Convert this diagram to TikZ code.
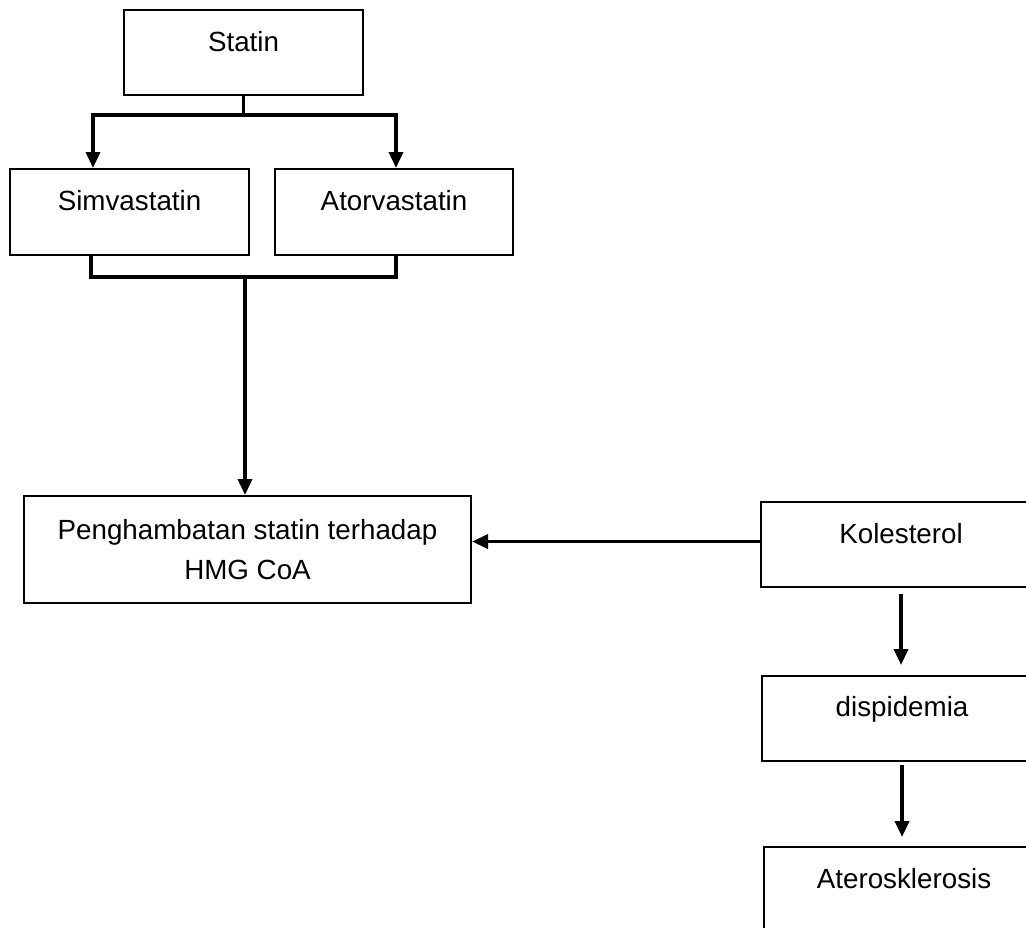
\documentclass[tikz,border=0pt]{standalone}
\usepackage{fontspec}
\setmainfont{Liberation Sans}
\usetikzlibrary{arrows.meta,calc}
\begin{document}
\begin{tikzpicture}[
  x=0.02cm,y=-0.02cm,
  font=\fontsize{15.8pt}{23.3pt}\selectfont,
  box/.style={draw=black,line width=1.2pt,inner sep=0pt,anchor=north west,
    text height=0.82cm,text depth=0.88cm},
  conn/.style={draw=black,line width=2pt},
  arr/.style={conn,-{Triangle[length=0.32cm,width=0.28cm]}}
]
\useasboundingbox (0,0) rectangle (1026,927);
\clip (0,0) rectangle (1026,927);
\fill[white] (0,0) rectangle (1026,927);
% boxes
\node[box,minimum width=4.78cm] (statin) at (123,9) {Statin};
\node[box,minimum width=4.78cm,text depth=0.9cm] (simva) at (9,168) {Simvastatin};
\node[box,minimum width=4.76cm,text depth=0.9cm] (atorva) at (274,168) {Atorvastatin};
\node[draw=black,line width=1.2pt,anchor=north west,minimum width=8.94cm,minimum height=2.14cm,align=center,inner sep=0pt] (peng) at (23,495) {Penghambatan statin terhadap\\HMG CoA};
\node[box,minimum width=5.6cm] (kol) at (760,501) {Kolesterol};
\node[box,minimum width=5.6cm,text height=0.8cm,text depth=0.9cm] (disp) at (761,675) {dispidemia};
\node[box,minimum width=5.6cm] (ater) at (763,846) {Aterosklerosis};
% connectors
\coordinate (sL) at (93,115);
\coordinate (sR) at (396,115);
\draw[conn] (statin.south) -- (statin.south |- sL);
\draw[conn,{Triangle[length=0.32cm,width=0.28cm]}-{Triangle[length=0.32cm,width=0.28cm]}]
  (sL |- simva.north) -- (sL) -- (sR) -- (sR |- atorva.north);
\coordinate (bL) at (91,277);
\coordinate (bR) at (396,277);
\coordinate (bM) at (245,277);
\draw[conn] (bL |- simva.south) -- (bL) -- (bR) -- (bR |- atorva.south);
\draw[arr] (bM) -- (bM |- peng.north);
\draw[arr] ($(kol.west)+(0,-3)$) -- ($(kol.west -| peng.east)+(0,-3)$);
\draw[arr,shorten <=0.12cm,shorten >=0.2cm] (kol.south) -- (kol.south |- disp.north);
\draw[arr,shorten <=0.06cm,shorten >=0.18cm] (disp.south) -- (disp.south |- ater.north);
\end{tikzpicture}
\end{document}
